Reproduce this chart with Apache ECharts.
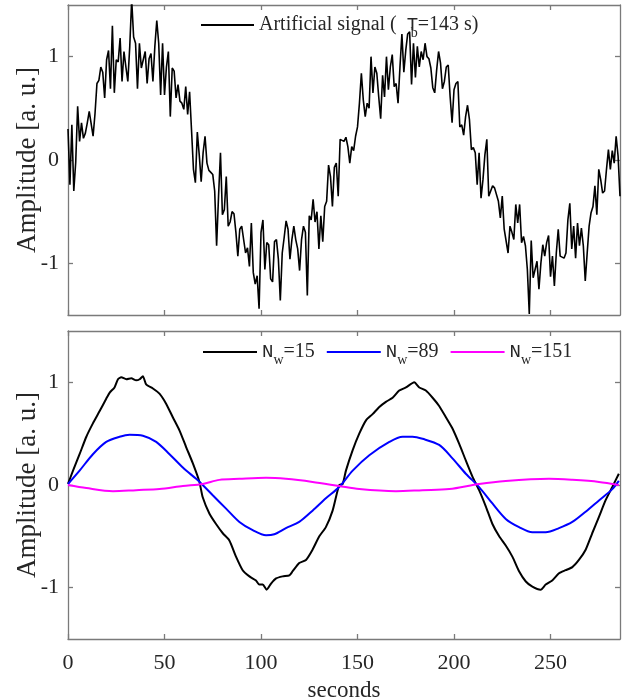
<!DOCTYPE html>
<html>
<head>
<meta charset="utf-8">
<script src="https://cdn.jsdelivr.net/npm/echarts@6/dist/echarts.min.js"></script>
<style>
  html, body { margin: 0; padding: 0; background: #fff; }
  #chart { width: 635px; height: 699px; }
</style>
</head>
<body>
<div id="chart"></div>
<script>
// Raw noisy signal, one sample per second (t = 0 .. 286 s)
const signalValues = [
  0.30, -0.24, 0.34, -0.30, -0.02, 0.52, 0.18, 0.36, 0.21, 0.26,
  0.36, 0.47, 0.48, 0.23, 0.45, 0.74, 0.77, 0.90, 0.85, 0.60,
  0.97, 1.06, 0.69, 1.30, 0.65, 0.97, 0.95, 1.18, 0.76, 1.05,
  0.90, 0.76, 1.10, 1.55, 1.19, 1.13, 0.69, 1.13, 0.89, 0.89,
  1.05, 0.74, 0.98, 1.03, 0.76, 1.10, 1.35, 1.13, 0.63, 1.13,
  0.63, 0.90, 1.05, 0.42, 0.89, 0.86, 0.60, 0.73, 0.57, 0.55,
  0.49, 0.71, 0.44, 0.66, 0.29, -0.09, -0.22, 0.27, 0.05, -0.21,
  0.07, 0.23, -0.03, -0.10, -0.12, -0.14, -0.30, -0.83, -0.35, 0.07,
  -0.53, -0.48, -0.16, -0.64, -0.60, -0.50, -0.52, -0.70, -0.93, -0.67,
  -0.64, -0.65, -0.90, -0.85, -1.03, -0.61, -1.09, -1.20, -1.12, -1.44,
  -0.70, -0.58, -1.06, -0.80, -0.82, -1.15, -1.18, -0.79, -0.77, -0.96,
  -1.36, -0.90, -0.75, -0.59, -0.67, -0.96, -0.77, -0.64, -0.77, -0.86,
  -1.07, -0.77, -0.64, -0.70, -1.31, -0.54, -0.58, -0.38, -0.60, -0.50,
  -0.86, -0.54, -0.79, -0.45, -0.40, -0.05, -0.16, -0.45, -0.07, -0.03,
  -0.35, 0.20, 0.21, 0.18, 0.22, 0.13, -0.03, 0.13, 0.09, 0.23,
  0.32, 0.55, 0.84, 0.58, 0.42, 0.55, 0.50, 1.00, 0.65, 0.90,
  0.84, 0.61, 0.40, 0.82, 0.61, 1.00, 0.68, 0.90, 1.02, 0.71,
  0.74, 0.55, 0.90, 1.22, 0.85, 1.06, 1.22, 1.24, 0.73, 1.13,
  0.80, 1.10, 0.90, 1.05, 0.97, 1.13, 1.00, 0.98, 0.89, 0.70,
  0.65, 0.87, 1.05, 0.94, 0.69, 0.76, 0.90, 0.92, 0.61, 0.36,
  0.68, 0.74, 0.76, 0.32, 0.34, 0.24, 0.42, 0.53, 0.39, 0.10,
  0.12, 0.07, -0.24, 0.07, -0.37, -0.19, 0.05, 0.20, -0.35, -0.30,
  -0.25, -0.27, -0.26, -0.40, -0.56, -0.35, -0.67, -0.67, -0.90, -0.64,
  -0.70, -0.77, -0.43, -0.61, -0.43, -0.80, -0.74, -0.83, -1.06, -1.49,
  -0.78, -1.14, -1.15, -0.98, -1.25, -1.00, -0.82, -0.93, -0.80, -0.73,
  -1.13, -0.93, -1.22, -0.90, -0.67, -0.93, -0.93, -0.95, -0.90, -0.58,
  -0.42, -0.86, -0.64, -0.95, -0.61, -0.83, -0.66, -0.83, -1.17, -0.90,
  -0.64, -0.51, -0.45, -0.25, -0.53, -0.09, -0.19, -0.32, -0.30, -0.09,
  0.10, -0.09, 0.09, -0.03, 0.23, 0.04, -0.35
];

// Moving-average outputs for three window lengths
const nw15Time = [0, 2.6, 6, 9.5, 12.9, 16.4, 19.8, 21.6, 24.1, 25.9, 27.6, 30.2, 32.8, 35.3, 37.1, 38.8, 40.5,
  44, 47.4, 50.9, 54.3, 57.8, 61.2, 64.7, 68.1, 69.8, 73.3, 76.7, 80.2, 83.6, 87.1, 90.5, 94, 97.4, 99.1,
  100.9, 102.9, 105.2, 107.8, 111.2, 114.7, 116.4, 119.8, 123.3, 126.7, 130.2, 133.6, 137.1, 140.5, 142.3,
  144, 147.5, 150.9, 154.4, 157.8, 161.3, 164.7, 168.2, 171.6, 175.1, 179.4, 182, 185.4, 188.9, 192.3,
  195.8, 199.2, 202.7, 206.1, 209.6, 213, 216.5, 219.9, 223.4, 226.8, 230.3, 233.7, 237.2, 240.6, 244.9,
  247.5, 250.9, 254.4, 257.8, 261.3, 264.7, 268.2, 271.6, 275.1, 278.5, 282, 285.4];
const nw15Values = [0.01, 0.14, 0.30, 0.47, 0.60, 0.72, 0.84, 0.90, 0.95, 1.03, 1.05, 1.03, 1.04, 1.02, 1.03, 1.06, 0.98,
  0.94, 0.89, 0.79, 0.66, 0.53, 0.37, 0.21, 0.03, -0.12, -0.28, -0.38, -0.47, -0.54, -0.70, -0.83, -0.89, -0.93, -0.97,
  -0.97, -1.02, -0.96, -0.91, -0.89, -0.88, -0.84, -0.76, -0.73, -0.63, -0.50, -0.41, -0.25, 0.00, 0.01,
  0.14, 0.34, 0.50, 0.63, 0.69, 0.76, 0.81, 0.85, 0.92, 0.95, 1.00, 0.95, 0.92, 0.85, 0.77,
  0.66, 0.55, 0.40, 0.24, 0.08, -0.05, -0.21, -0.38, -0.50, -0.59, -0.70, -0.84, -0.94, -0.99, -1.02,
  -0.97, -0.93, -0.86, -0.83, -0.80, -0.73, -0.63, -0.47, -0.31, -0.15, -0.02, 0.11];

const nw89Time = [0, 6, 12.9, 19.8, 26.7, 31.9, 38.8, 45.7, 52.6, 59.5, 66.4, 69.8, 75, 81.9, 88.8, 95.7, 102.6,
  106.9, 112.9, 119.8, 126.7, 133.6, 140.5, 147.5, 156.1, 166.5, 173.4, 178.5, 183.7, 192.3, 199.2, 206.1,
  213, 219.9, 226.8, 233.7, 240.6, 247.5, 254.4, 261.3, 268.2, 275.1, 282, 285.4];
const nw89Values = [0.01, 0.14, 0.30, 0.42, 0.47, 0.49, 0.48, 0.42, 0.30, 0.17, 0.06, 0.00, -0.10, -0.23, -0.36, -0.44, -0.49,
  -0.48, -0.42, -0.36, -0.25, -0.13, -0.02, 0.14, 0.29, 0.42, 0.47, 0.47, 0.45, 0.39, 0.26, 0.11,
  -0.02, -0.18, -0.33, -0.41, -0.46, -0.46, -0.42, -0.36, -0.26, -0.15, -0.04, 0.04];

const nw151Time = [0, 9.5, 23.3, 35.3, 47.4, 59.5, 69.8, 78.4, 88.8, 102.6, 112.9, 126.7, 140.5, 150.9, 169.9,
  183.7, 197.5, 213, 226.8, 249.2, 261.3, 275.1, 285.4];
const nw151Values = [0.00, -0.03, -0.06, -0.05, -0.04, -0.01, 0.01, 0.05, 0.06, 0.07, 0.06, 0.03, -0.01, -0.04, -0.06,
  -0.05, -0.04, 0.01, 0.04, 0.06, 0.05, 0.03, 0.00];

const xTicks = [0, 50, 100, 150, 200, 250];
const yTicks = [-1, 0, 1];
const X_MAX = 286;

const pairs = (ts, vs) => ts.map((t, i) => [t, vs[i]]);
const SERIF = 'Liberation Serif';
const MONO = 'Liberation Mono';
const AXIS_GRAY = '#7a7a7a';
const TEXT = '#262626';

function xAxisFor(gridIndex, position, showLabels) {
  return {
    type: 'value', gridIndex, position, min: 0, max: X_MAX,
    axisLine: { show: true, onZero: false, lineStyle: { color: AXIS_GRAY, width: 1.3 } },
    axisTick: { show: true, inside: true, length: 5, customValues: xTicks, lineStyle: { color: AXIS_GRAY, width: 1.3 } },
    axisLabel: { show: showLabels, customValues: xTicks, margin: 13, fontFamily: SERIF, fontSize: 22, color: TEXT },
    splitLine: { show: false }
  };
}
function yAxisFor(gridIndex, position, showLabels) {
  return {
    type: 'value', gridIndex, position, min: -1.5, max: 1.5,
    axisLine: { show: true, onZero: false, lineStyle: { color: AXIS_GRAY, width: 1.3 } },
    axisTick: { show: true, inside: true, length: 5, customValues: yTicks, lineStyle: { color: AXIS_GRAY, width: 1.3 } },
    axisLabel: { show: showLabels, customValues: yTicks, margin: 9, fontFamily: SERIF, fontSize: 22, color: TEXT },
    splitLine: { show: false },
    name: showLabels ? 'Amplitude [a. u.]' : '',
    nameLocation: 'middle', nameGap: 27, nameMoveOverlap: false,
    nameTextStyle: { fontFamily: SERIF, fontSize: 27, color: TEXT }
  };
}

const richStyles = {
  r: { fontFamily: SERIF, fontSize: 20, color: TEXT, lineHeight: 30, verticalAlign: 'middle' },
  m: { fontFamily: MONO, fontSize: 19, color: TEXT, lineHeight: 30, verticalAlign: 'middle' },
  t: { fontFamily: MONO, fontSize: 19, color: TEXT, lineHeight: 30, verticalAlign: 'middle', width: 4 },
  s: { fontFamily: SERIF, fontSize: 14, color: TEXT, lineHeight: 16, verticalAlign: 'bottom' }
};

const legendText = {
  'Artificial signal': '{r|Artificial signal (  }{t|T}{s|b}{r|=143 s)}',
  'Nw15': '{m|N}{s|w}{r|=15}',
  'Nw89': '{m|N}{s|w}{r|=89}',
  'Nw151': '{m|N}{s|w}{r|=151}'
};

const chart = echarts.init(document.getElementById('chart'), null, { renderer: 'canvas' });
chart.setOption({
  animation: false,
  backgroundColor: '#ffffff',
  grid: [
    { left: 68, right: 15, top: 5, height: 310, containLabel: false, outerBoundsMode: 'none' },
    { left: 68, right: 15, top: 331, height: 308, containLabel: false, outerBoundsMode: 'none' }
  ],
  xAxis: [
    xAxisFor(0, 'bottom', false),
    xAxisFor(0, 'top', false),
    Object.assign(xAxisFor(1, 'bottom', true), {
      name: 'seconds', nameLocation: 'middle', nameGap: 40, nameMoveOverlap: false,
      nameTextStyle: { fontFamily: SERIF, fontSize: 23, color: TEXT }
    }),
    xAxisFor(1, 'top', false)
  ],
  yAxis: [
    yAxisFor(0, 'left', true),
    yAxisFor(0, 'right', false),
    yAxisFor(1, 'left', true),
    yAxisFor(1, 'right', false)
  ],
  legend: [
    {
      data: ['Artificial signal'], left: 201, top: 15, padding: 0,
      icon: 'rect', itemWidth: 53, itemHeight: 2, itemGap: 12,
      formatter: n => legendText[n], textStyle: { rich: richStyles }
    },
    {
      data: ['Nw15', 'Nw89', 'Nw151'], left: 203, top: 342, padding: 0,
      icon: 'rect', itemWidth: 54, itemHeight: 2, itemGap: 12,
      formatter: n => legendText[n], textStyle: { rich: richStyles }
    }
  ],
  series: [
    {
      name: 'Artificial signal', type: 'line', xAxisIndex: 0, yAxisIndex: 0,
      data: signalValues.map((v, i) => [i, v]),
      symbol: 'none', lineStyle: { color: '#000', width: 1.6 }, itemStyle: { color: '#000' }
    },
    {
      name: 'Nw15', type: 'line', xAxisIndex: 2, yAxisIndex: 2, smooth: 0.2,
      data: pairs(nw15Time, nw15Values),
      symbol: 'none', lineStyle: { color: '#000', width: 2 }, itemStyle: { color: '#000' }
    },
    {
      name: 'Nw89', type: 'line', xAxisIndex: 2, yAxisIndex: 2, smooth: 0.3,
      data: pairs(nw89Time, nw89Values),
      symbol: 'none', lineStyle: { color: '#0000ff', width: 2 }, itemStyle: { color: '#0000ff' }
    },
    {
      name: 'Nw151', type: 'line', xAxisIndex: 2, yAxisIndex: 2, smooth: 0.3,
      data: pairs(nw151Time, nw151Values),
      symbol: 'none', lineStyle: { color: '#ff00ff', width: 2 }, itemStyle: { color: '#ff00ff' }
    }
  ]
});
</script>
</body>
</html>
